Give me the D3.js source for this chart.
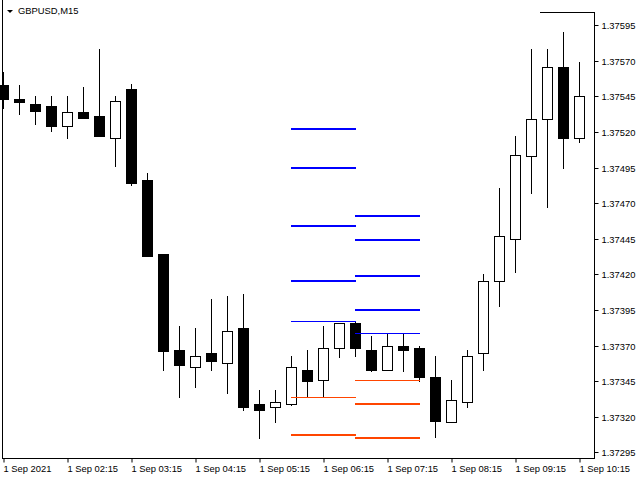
<!DOCTYPE html>
<html><head><meta charset="utf-8">
<script src="https://cdn.jsdelivr.net/npm/d3@7"></script>
<style>body{margin:0;background:#fff} svg{display:block}</style>
</head><body>
<svg id="c" width="640" height="480"></svg>
<script>
const symbolLabel = "GBPUSD,M15";
const timeLabels = ["1 Sep 2021","1 Sep 02:15","1 Sep 03:15","1 Sep 04:15","1 Sep 05:15","1 Sep 06:15","1 Sep 07:15","1 Sep 08:15","1 Sep 09:15","1 Sep 10:15"];
const timeLabelIdx = [0,4,8,12,16,20,24,28,32,36];
const priceTicks = [1.37295,1.37320,1.37345,1.37370,1.37395,1.37420,1.37445,1.37470,1.37495,1.37520,1.37545,1.37570,1.37595];

const opens  = [1.37553,1.37543,1.37540,1.37538,1.37524,1.37534,1.37531,1.37516,1.37550,1.37486,1.37434,1.37367,1.37355,1.37365,1.37358,1.37382,1.37329,1.37327,1.37329,1.37353,1.37346,1.37368,1.37386,1.37367,1.37353,1.37370,1.37368,1.37348,1.37316,1.37330,1.37365,1.37415,1.37445,1.37503,1.37529,1.37566,1.37516];
const highs  = [1.37562,1.37553,1.37545,1.37545,1.37545,1.37552,1.37578,1.37545,1.37554,1.37491,1.37434,1.37384,1.37382,1.37403,1.37405,1.37406,1.37339,1.37339,1.37363,1.37367,1.37384,1.37386,1.37387,1.37377,1.37379,1.37379,1.37370,1.37363,1.37346,1.37367,1.37420,1.37481,1.37517,1.37578,1.37578,1.37590,1.37569];
const lows   = [1.37537,1.37533,1.37526,1.37521,1.37516,1.37530,1.37517,1.37496,1.37483,1.37433,1.37353,1.37334,1.37341,1.37353,1.37337,1.37325,1.37305,1.37316,1.37328,1.37334,1.37334,1.37362,1.37363,1.37352,1.37353,1.37352,1.37345,1.37306,1.37316,1.37327,1.37353,1.37398,1.37422,1.37477,1.37467,1.37495,1.37513];
const closes = [1.37543,1.37541,1.37535,1.37524,1.37534,1.37530,1.37517,1.37542,1.37484,1.37433,1.37366,1.37356,1.37363,1.37359,1.37380,1.37327,1.37325,1.37330,1.37355,1.37345,1.37368,1.37386,1.37368,1.37353,1.37370,1.37367,1.37348,1.37317,1.37332,1.37363,1.37415,1.37447,1.37504,1.37529,1.37566,1.37516,1.37545];

const zoneARange = [18, 22];
const zoneAResist = [1.37522,1.37495,1.37454,1.37415];
const zoneAHigh = [1.37387];
const zoneALow = [1.37334];
const zoneASupport = [1.37307];
const zoneBRange = [22, 26];
const zoneBResist = [1.37461,1.37444,1.37419,1.37395];
const zoneBHigh = [1.37379];
const zoneBLow = [1.37346];
const zoneBSupport = [1.37329,1.37305];

const svg = d3.select("#c");
const FONT = "Liberation Sans, Arial, sans-serif";
const x = d3.scaleLinear().domain([0, 36]).range([3.5, 579.5]);
const y = d3.scaleLinear().domain([1.37295, 1.37595]).range([452.3, 25.3]);
const py = v => Math.round(y(v));

const candles = opens.map((o,i)=>({i, o, h:highs[i], l:lows[i], c:closes[i]}));

const plot = svg.append("g");
plot.selectAll("line.wick").data(candles).join("line")
  .attr("x1", d=>x(d.i)).attr("x2", d=>x(d.i))
  .attr("y1", d=>py(d.h)).attr("y2", d=>py(d.l)+1)
  .attr("stroke","#000").attr("stroke-width",1);
plot.selectAll("rect.body").data(candles).join("rect")
  .attr("x", d=>x(d.i)-5)
  .attr("width", 10)
  .attr("y", d=>py(Math.max(d.o,d.c))+0.5)
  .attr("height", d=>Math.max(1, py(Math.min(d.o,d.c))-py(Math.max(d.o,d.c))))
  .attr("fill", d=> d.c > d.o ? "#fff" : "#000")
  .attr("stroke","#000").attr("stroke-width",1);

function levels(range, vals, color, w){
  plot.append("g").selectAll("line").data(vals).join("line")
    .attr("x1", x(range[0])-0.5).attr("x2", x(range[1])+0.5)
    .attr("y1", d=> w===1 ? py(d)+0.5 : py(d)).attr("y2", d=> w===1 ? py(d)+0.5 : py(d))
    .attr("stroke", color).attr("stroke-width", w);
}
levels(zoneARange, zoneAResist, "#0000ff", 2);
levels(zoneARange, zoneAHigh, "#0000ff", 1);
levels(zoneARange, zoneALow, "#ff4500", 1);
levels(zoneARange, zoneASupport, "#ff4500", 2);
levels(zoneBRange, zoneBResist, "#0000ff", 2);
levels(zoneBRange, zoneBHigh, "#0000ff", 1);
levels(zoneBRange, zoneBLow, "#ff4500", 1);
levels(zoneBRange, zoneBSupport, "#ff4500", 2);

// frame
svg.append("line").attr("x1",2.5).attr("x2",2.5).attr("y1",0).attr("y2",459).attr("stroke","#000");
svg.append("line").attr("x1",540).attr("x2",595).attr("y1",12.5).attr("y2",12.5).attr("stroke","#000");

const yAxis = d3.axisRight(y).tickValues(priceTicks).tickSize(4).tickPadding(3)
  .tickFormat(d3.format(".5f"));
const ga = svg.append("g").attr("transform","translate(594.5,0)").call(yAxis);
ga.select(".domain").remove();
ga.selectAll(".tick").attr("transform", d=>`translate(0,${py(d)+0.5})`);
ga.selectAll("text").attr("font-family",FONT).attr("font-size","9.4px").attr("fill","#000");
svg.append("line").attr("x1",594.5).attr("x2",594.5).attr("y1",12).attr("y2",459).attr("stroke","#000");

const xAxis = d3.axisBottom(x).tickValues(timeLabelIdx).tickSize(4).tickPadding(3)
  .tickFormat((d,k)=>timeLabels[k]);
const gb = svg.append("g").attr("transform","translate(0,458.5)").call(xAxis);
gb.select(".domain").remove();
gb.selectAll("text").attr("text-anchor","start").attr("dx","-0.5")
  .attr("font-family",FONT).attr("font-size","9.4px").attr("fill","#000");
svg.append("line").attr("x1",2).attr("x2",595).attr("y1",458.5).attr("y2",458.5).attr("stroke","#000");

svg.append("path").attr("d","M7,10 L13,10 L10,13 Z").attr("fill","#000");
svg.append("text").attr("x",18).attr("y",14).attr("font-family",FONT).attr("font-size","9.4px")
  .attr("fill","#000").text(symbolLabel);
</script>
</body></html>
